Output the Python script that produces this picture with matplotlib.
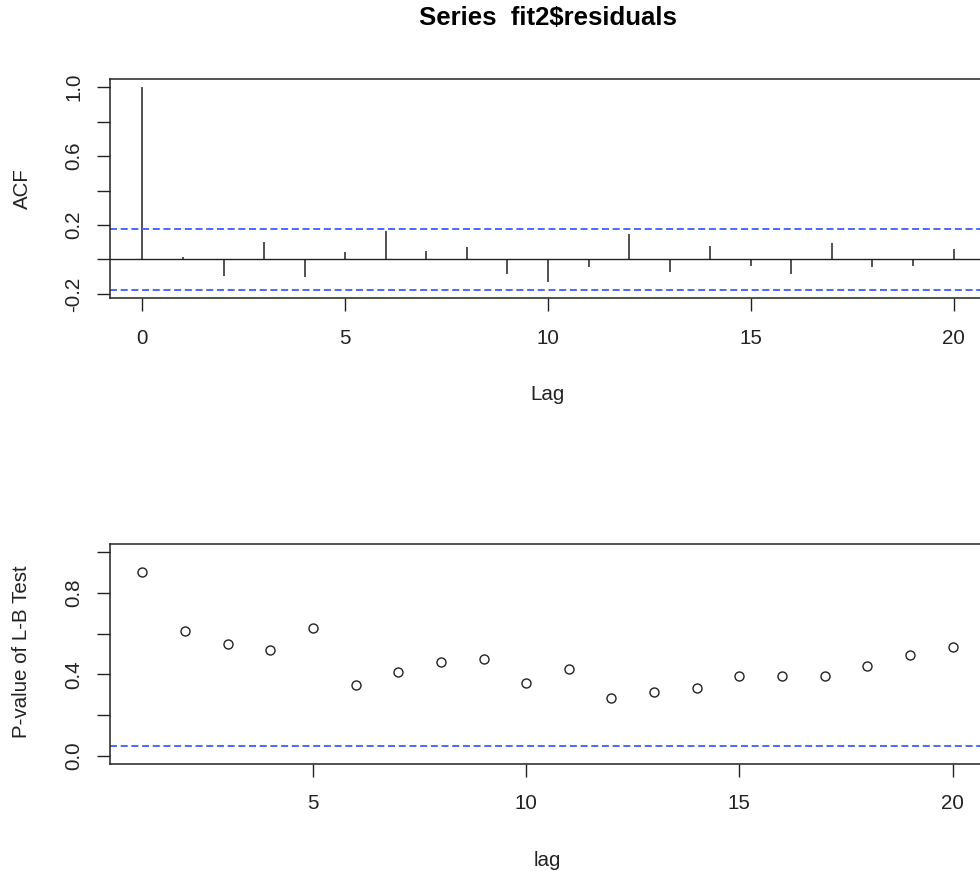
import matplotlib
matplotlib.use("Agg")
import matplotlib.pyplot as plt
import numpy as np

plt.rcParams['font.family'] = ['Liberation Sans', 'DejaVu Sans']

# ---- data ----
acf_lags = list(range(0, 21))
acf_values = [1.0, 0.012, -0.093, 0.100, -0.100, 0.044, 0.166, 0.052, 0.070, -0.083,
              -0.131, -0.044, 0.149, -0.075, 0.077, -0.035, -0.083, 0.095, -0.044,
              -0.035, 0.062]
acf_ci = 0.178

lb_lags = list(range(1, 21))
lb_pvalues = [0.903, 0.614, 0.552, 0.519, 0.627, 0.346, 0.414, 0.463, 0.476, 0.360,
              0.429, 0.284, 0.312, 0.333, 0.394, 0.394, 0.394, 0.442, 0.498, 0.534]
lb_alpha = 0.05

acf_yticks = [-0.2, 0.0, 0.2, 0.4, 0.6, 0.8, 1.0]
acf_yticklabels = ['-0.2', '', '0.2', '', '0.6', '', '1.0']
acf_xticks = [0, 5, 10, 15, 20]
lb_yticks = [0.0, 0.2, 0.4, 0.6, 0.8, 1.0]
lb_yticklabels = ['0.0', '', '0.4', '', '0.8', '']
lb_xticks = [5, 10, 15, 20]

title = 'Series  fit2$residuals'

# ---- figure ----
W, H = 980, 871
fig = plt.figure(figsize=(W / 100, H / 100), dpi=100)

def px_axes(l, r, t, b):
    return fig.add_axes([l / W, 1 - b / H, (r - l) / W, (b - t) / H])

fs = 14.8
blue = '#4d66ff'
dash = (0, (3.6, 1.9))
tick_len = 9.4

def style(ax):
    for s in ax.spines.values():
        s.set_linewidth(1.1)
        s.set_color('#222222')
    ax.tick_params(axis='both', length=tick_len, width=1.0, color='#222222',
                   labelsize=fs, labelcolor='#222222')
    ax.tick_params(axis='x', pad=12.5)
    ax.tick_params(axis='y', pad=10)

# top: ACF
ax1 = px_axes(110, 986, 79, 298.3)
ax1.vlines(acf_lags, 0, acf_values, colors='#222222', linewidth=1.1)
ax1.axhline(0, color='#222222', linewidth=1.0)
ax1.axhline(acf_ci, color=blue, linewidth=1.4, linestyle=dash)
ax1.axhline(-acf_ci, color=blue, linewidth=1.4, linestyle=dash)
xr = max(acf_lags) - min(acf_lags)
ax1.set_xlim(min(acf_lags) - 0.04 * xr, max(acf_lags) + 0.04 * xr)
yr = 1.0 - min(acf_values + [-acf_ci])
ax1.set_ylim(min(acf_values + [-acf_ci]) - 0.04 * yr, 1.0 + 0.04 * yr)
ax1.set_xticks(acf_xticks)
ax1.set_yticks(acf_yticks)
ax1.set_yticklabels(acf_yticklabels)
style(ax1)
for lbl in ax1.get_yticklabels():
    lbl.set_rotation(90)
    lbl.set_va('center')

# bottom: Ljung-Box p-values
ax2 = px_axes(110, 985, 544.3, 764)
ax2.plot(lb_lags, lb_pvalues, linestyle='none', marker='o', markersize=6.5,
         markerfacecolor='none', markeredgecolor='#222222', markeredgewidth=1.0)
ax2.axhline(lb_alpha, color=blue, linewidth=1.4, linestyle=dash)
xr2 = max(lb_lags) - min(lb_lags)
ax2.set_xlim(min(lb_lags) - 0.04 * xr2, max(lb_lags) + 0.04 * xr2)
ax2.set_ylim(-0.04, 1.04)
ax2.set_xticks(lb_xticks)
ax2.set_yticks(lb_yticks)
ax2.set_yticklabels(lb_yticklabels)
style(ax2)
for lbl in ax2.get_yticklabels():
    lbl.set_rotation(90)
    lbl.set_va('center')

# texts
fig.text(548 / W, 1 - 25 / H, title, ha='center', va='baseline',
         fontsize=18.5, fontweight='bold', color='black')
fig.text(547 / W, 1 - 400 / H, 'Lag', ha='center', va='baseline', fontsize=fs, color='#222222')
fig.text(547 / W, 1 - 866 / H, 'lag', ha='center', va='baseline', fontsize=fs, color='#222222')
fig.text(22.5 / W, 1 - 188.5 / H, 'ACF', ha='center', va='center', rotation=90,
         fontsize=fs, color='#222222')
fig.text(22 / W, 1 - 652 / H, 'P-value of L-B Test', ha='center', va='center', rotation=90,
         fontsize=fs, color='#222222')

fig.savefig('out.png', dpi=100)
